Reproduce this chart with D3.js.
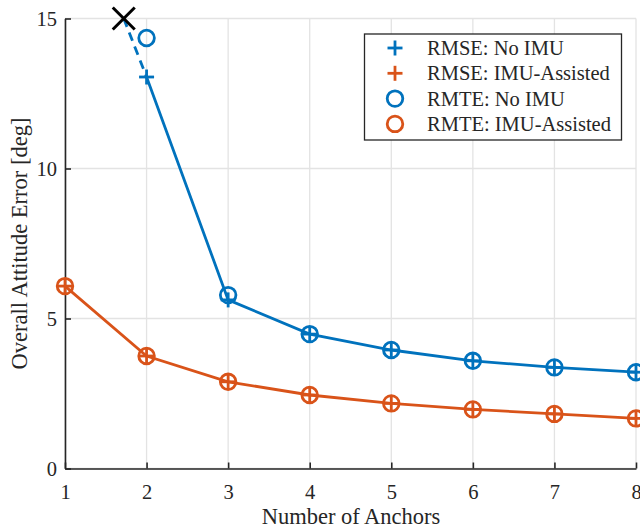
<!DOCTYPE html>
<html>
<head>
<meta charset="utf-8">
<script src="https://cdn.jsdelivr.net/npm/d3@7"></script>
<style>
  html, body { margin: 0; padding: 0; background: #fff; }
  svg { display: block; }
  text { font-family: "Liberation Serif", "Times New Roman", serif; fill: #262626; }
</style>
</head>
<body>
<svg id="chart" width="640" height="527"></svg>
<script>
// ---- data ----
const anchors = [1, 2, 3, 4, 5, 6, 7, 8];
const rmseNoIMU = [null, 13.05, 5.62, 4.48, 3.95, 3.59, 3.37, 3.21];
const rmseIMU   = [6.08, 3.75, 2.89, 2.45, 2.17, 1.97, 1.82, 1.67];
const rmteNoIMU = [null, 14.35, 5.78, 4.48, 3.95, 3.59, 3.37, 3.21];
const rmteIMU   = [6.08, 3.75, 2.89, 2.45, 2.17, 1.97, 1.82, 1.67];
// off-chart marker (value beyond the axis limit at 1 anchor)
const offChartX = [1.72];
const offChartY = [15];
const xTicks = [1, 2, 3, 4, 5, 6, 7, 8];
const yTicks = [0, 5, 10, 15];
const legendLabels = ["RMSE: No IMU", "RMSE: IMU-Assisted", "RMTE: No IMU", "RMTE: IMU-Assisted"];
const blue = "#0072BD", orange = "#D95319";

const svg = d3.select("#chart");
const x = d3.scaleLinear().domain([1, 8]).range([65, 636]);
const y = d3.scaleLinear().domain([0, 15]).range([468.5, 18.5]);

// grid
const grid = svg.append("g");
grid.selectAll("line.gx").data(xTicks).join("line")
  .attr("x1", d => x(d)).attr("x2", d => x(d))
  .attr("y1", y(0)).attr("y2", y(15))
  .attr("stroke", "#e3e3e3").attr("stroke-width", 1.3);
grid.selectAll("line.gy").data(yTicks).join("line")
  .attr("x1", x(1)).attr("x2", x(8))
  .attr("y1", d => y(d)).attr("y2", d => y(d))
  .attr("stroke", "#e3e3e3").attr("stroke-width", 1.3);

// axes
const xAxis = svg.append("g").attr("transform", `translate(0,${y(0)})`)
  .call(d3.axisBottom(x).tickValues(xTicks).tickFormat(d3.format("d")).tickSizeInner(-6).tickSizeOuter(0).tickPadding(14));
const yAxis = svg.append("g").attr("transform", `translate(${x(1)},0)`)
  .call(d3.axisLeft(y).tickValues(yTicks).tickFormat(d3.format("d")).tickSizeInner(-6).tickSizeOuter(0).tickPadding(14));
[xAxis, yAxis].forEach(a => {
  a.select(".domain").attr("stroke", "#262626").attr("stroke-width", 1.6);
  a.selectAll(".tick line").attr("stroke", "#262626").attr("stroke-width", 1.6);
  a.selectAll(".tick text").attr("font-family", "Liberation Serif, serif").attr("font-size", 20.5).attr("fill", "#262626");
});
xAxis.selectAll(".tick text").attr("dy", "0.71em").attr("y", 16);
yAxis.selectAll(".tick text").attr("x", -8);

// axis labels
svg.append("text").attr("x", 351).attr("y", 524).attr("text-anchor", "middle")
  .attr("font-size", 22.5).text("Number of Anchors");
svg.append("text").attr("transform", `translate(27,${(y(0)+y(15))/2}) rotate(-90)`)
  .attr("text-anchor", "middle").attr("font-size", 22.5).text("Overall Attitude Error [deg]");

// lines
const line = d3.line().defined(d => d[1] != null).x(d => x(d[0])).y(d => y(d[1]));
const seriesLines = [[rmseNoIMU, blue], [rmseIMU, orange]];
seriesLines.forEach(([vals, col]) => {
  svg.append("path").datum(anchors.map((a, i) => [a, vals[i]]))
    .attr("d", line).attr("fill", "none").attr("stroke", col).attr("stroke-width", 2.8);
});
// dashed link from off-chart marker to first visible point
svg.append("path").datum([[offChartX[0], offChartY[0]], [anchors[1], rmseNoIMU[1]]])
  .attr("d", line).attr("fill", "none").attr("stroke", blue).attr("stroke-width", 2.8)
  .attr("stroke-dasharray", "9,6");

// markers
function plus(g, cx, cy, col, s = 7.5) {
  g.append("line").attr("x1", cx - s).attr("x2", cx + s).attr("y1", cy).attr("y2", cy).attr("stroke", col).attr("stroke-width", 2.8);
  g.append("line").attr("x1", cx).attr("x2", cx).attr("y1", cy - s).attr("y2", cy + s).attr("stroke", col).attr("stroke-width", 2.8);
}
function circ(g, cx, cy, col, r = 7.8) {
  g.append("circle").attr("cx", cx).attr("cy", cy).attr("r", r).attr("fill", "none").attr("stroke", col).attr("stroke-width", 2.8);
}
const mk = svg.append("g");
[[rmseNoIMU, blue], [rmseIMU, orange]].forEach(([vals, col]) => {
  anchors.forEach((a, i) => { if (vals[i] != null) plus(mk, x(a), y(vals[i]), col); });
});
[[rmteNoIMU, blue], [rmteIMU, orange]].forEach(([vals, col]) => {
  anchors.forEach((a, i) => { if (vals[i] != null) circ(mk, x(a), y(vals[i]), col); });
});

// off-chart X marker
const ox = x(offChartX[0]), oy = y(offChartY[0]), os = 11;
mk.append("line").attr("x1", ox - os).attr("y1", oy - os).attr("x2", ox + os).attr("y2", oy + os).attr("stroke", "#000").attr("stroke-width", 3);
mk.append("line").attr("x1", ox - os).attr("y1", oy + os).attr("x2", ox + os).attr("y2", oy - os).attr("stroke", "#000").attr("stroke-width", 3);

// legend
const lg = svg.append("g");
lg.append("rect").attr("x", 364.5).attr("y", 34).attr("width", 257).attr("height", 106)
  .attr("fill", "#fff").attr("stroke", "#262626").attr("stroke-width", 1.3);
const legendColors = [blue, orange, blue, orange];
legendLabels.forEach((lab, i) => {
  const ly = 48 + i * 25.3;
  if (i < 2) plus(lg, 395, ly, legendColors[i]); else circ(lg, 395, ly, legendColors[i]);
  lg.append("text").attr("x", 427).attr("y", ly).attr("dy", "0.35em").attr("font-size", 20.5).text(lab);
});
</script>
</body>
</html>
